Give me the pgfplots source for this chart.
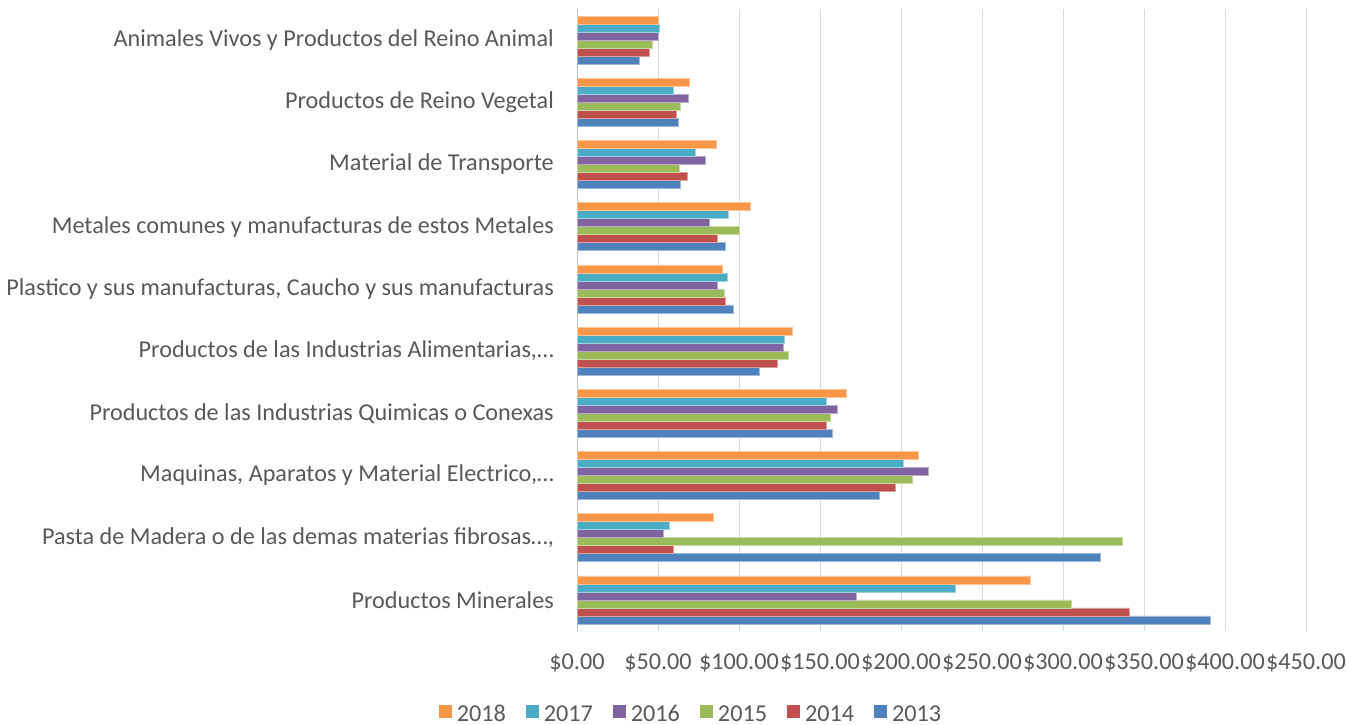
\documentclass[border=0pt]{standalone}
\usepackage{fontspec}
\setmainfont{Carlito}
\usepackage{pgfplots}
\usepackage{pgfplotstable}
\pgfplotsset{compat=1.18}
\definecolor{cA}{HTML}{4F81BD}
\definecolor{cB}{HTML}{C0504D}
\definecolor{cC}{HTML}{9BBB59}
\definecolor{cD}{HTML}{8064A2}
\definecolor{cE}{HTML}{4BACC6}
\definecolor{cF}{HTML}{F79646}
\definecolor{txt}{HTML}{595959}
\definecolor{gridc}{HTML}{D9D9D9}
\definecolor{axc}{HTML}{BFBFBF}
\pgfplotstableread{
y  a2013 a2014 a2015 a2016 a2017 a2018
0  390.9 341.2 304.9 172.6 233.5 279.9
1  323.2 59.5  336.3 53.4  56.7  84.1
2  186.6 196.6 207.0 217.1 201.2 210.4
3  157.6 154.1 156.2 160.5 154.1 166.0
4  112.8 123.5 130.2 127.2 128.0 132.9
5  96.7  91.8  90.9  86.8  92.6  89.9
6  91.8  86.4  100.0 81.9  93.6  107.0
7  63.8  68.3  63.0  79.4  73.3  86.0
8  62.6  61.1  63.8  68.5  59.7  69.1
9  38.5  44.9  46.7  50.2  50.6  50.4
}\datatable
\begin{document}
\begin{tikzpicture}
\path[use as bounding box] (0pt,0pt) rectangle (1346pt,725pt);
\begin{axis}[
  at={(577pt,94pt)}, anchor=south west,
  scale only axis, width=729pt, height=622pt,
  xbar, bar width=7.97pt,
  xmin=0, xmax=450, ymin=-0.5, ymax=9.5,
  xtick={0,50,...,450},
  ytick={0,...,9},
  yticklabels={Productos Minerales,{Pasta de Madera o de las demas materias fibrosas…,},{Maquinas, Aparatos y Material Electrico,…},Productos de las Industrias Quimicas o Conexas,{Productos de las Industrias Alimentarias,…},{Plastico y sus manufacturas, Caucho y sus manufacturas},Metales comunes y manufacturas de estos Metales,Material de Transporte,Productos de Reino Vegetal,Animales Vivos y Productos del Reino Animal},
  xmajorgrids, ymajorgrids=false,
  grid style={draw=gridc, line width=1pt},
  axis lines*=left,
  axis line style={-},
  x axis line style={draw=none},
  y axis line style={draw=axc, line width=1pt},
  major tick length=0pt,
  /pgf/number format/assume math mode=true,
  xticklabel={\$\pgfmathprintnumber[fixed,precision=2,fixed zerofill]{\tick}},
  xticklabel style={anchor=center, yshift=-32pt, inner sep=0pt, font=\fontsize{24.2}{28}\selectfont, text=txt},
  yticklabel style={anchor=east, xshift=-23pt, inner sep=0pt, font=\fontsize{24.2}{28}\selectfont, text=txt},
  reverse legend,
  legend columns=-1,
  legend style={at={(axis description cs:0.155,-0.1334)}, anchor=center, draw=none, fill=none,
    font=\fontsize{24.2}{28}\selectfont, text=txt,
    nodes={inner xsep=0pt, inner ysep=0pt},
    /tikz/every odd column/.append style={column sep=5pt},
    /tikz/every even column/.append style={column sep=20pt}},
  legend image code/.code={\path[#1,draw=none] (0pt,-4pt) rectangle (13pt,9pt);},
]
\addplot[fill=cA, draw=cA!55!white, line width=0.6pt, bar shift=-19.925pt] table[x=a2013,y=y]{\datatable};
\addplot[fill=cB, draw=cB!55!white, line width=0.6pt, bar shift=-11.955pt] table[x=a2014,y=y]{\datatable};
\addplot[fill=cC, draw=cC!55!white, line width=0.6pt, bar shift=-3.985pt] table[x=a2015,y=y]{\datatable};
\addplot[fill=cD, draw=cD!55!white, line width=0.6pt, bar shift=3.985pt] table[x=a2016,y=y]{\datatable};
\addplot[fill=cE, draw=cE!55!white, line width=0.6pt, bar shift=11.955pt] table[x=a2017,y=y]{\datatable};
\addplot[fill=cF, draw=cF!55!white, line width=0.6pt, bar shift=19.925pt] table[x=a2018,y=y]{\datatable};
\legend{2013,2014,2015,2016,2017,2018}
\end{axis}
\end{tikzpicture}
\end{document}
